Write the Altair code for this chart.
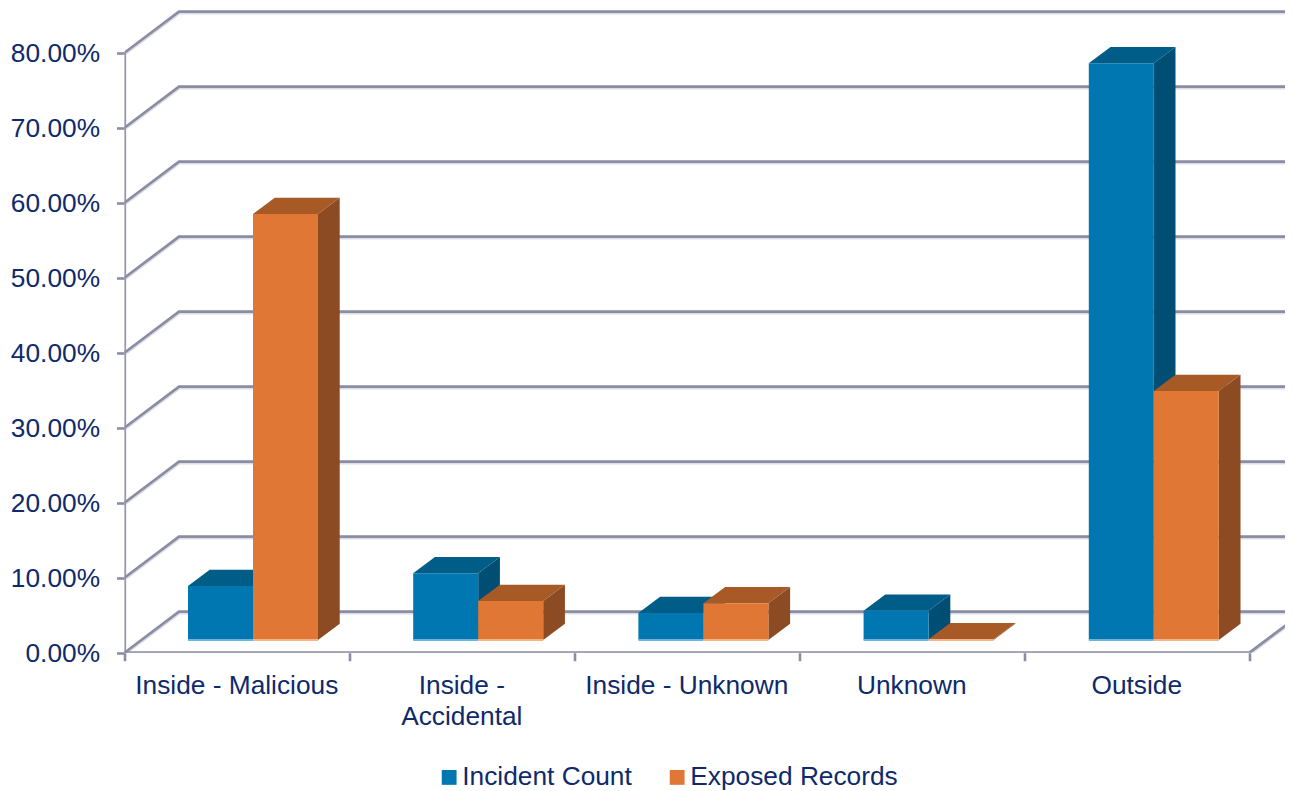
import altair as alt
import pandas as pd

categories = ["Inside - Malicious", "Inside - Accidental", "Inside - Unknown", "Unknown", "Outside"]
label_lines = [["Inside - Malicious"], ["Inside -", "Accidental"], ["Inside - Unknown"], ["Unknown"], ["Outside"]]
incident_count = [0.072, 0.089, 0.036, 0.039, 0.769]
exposed_records = [0.568, 0.052, 0.049, 0.001, 0.332]
y_ticks = [0.0, 0.1, 0.2, 0.3, 0.4, 0.5, 0.6, 0.7, 0.8]

NAVY = "#0e2a6b"
GRID = "#8b8da3"
SHADOW = "#dcdde6"
FONT = "Liberation Sans"
FS = 26.3

BLUE, BLUE_TOP, BLUE_SIDE, BLUE_EDGE = "#0077b0", "#005d87", "#004e74", "#6fb5da"
OR, OR_TOP, OR_SIDE, OR_EDGE = "#e07735", "#a85a26", "#8c4b23", "#f3b48c"

XMAX, YMAX = 5.1578, 0.8596
WALL_X, WALL_Y = 0.2422, 0.0547
BASE = 0.0169
BAR_W, BAR_START = 0.2889, 0.2822
DX, DY = 0.0965, 0.0218

xs = alt.Scale(domain=[0, XMAX], nice=False, zero=False)
ys = alt.Scale(domain=[0, YMAX], nice=False, zero=False)

x_tick_vals = [i / 2 for i in range(11)]
label_js = "[" + ",".join("[" + ",".join(repr(s) for s in l) + "]" for l in label_lines) + "]"
x_axis = alt.Axis(
    values=x_tick_vals, domain=False, grid=False, tickColor=GRID, tickWidth=2.6, tickSize=8,
    tickOpacity=alt.ExprRef("datum.value % 1 == 0 ? 1 : 0"),
    labelExpr=f"datum.value % 1 == 0 ? '' : {label_js}[floor(datum.value)]",
    labelFont=FONT, labelFontSize=FS, labelColor=NAVY, labelPadding=12, labelLineHeight=31, labelLimit=400,
    labelOffset=-0.7, labelOverlap=False, labelFlush=False, labelBound=False, labelAngle=0, labelAlign="center",
    labelBaseline="top")
y_axis = alt.Axis(
    values=y_ticks, format=".2%", domain=False, grid=False, tickColor=GRID, tickWidth=2.6, tickSize=8,
    labelFont=FONT, labelFontSize=FS, labelColor=NAVY, labelPadding=17, labelOffset=1, labelLimit=200,
    labelOverlap=False, labelBound=False, labelFlush=False)

X = lambda: alt.X("x:Q", scale=xs, axis=x_axis, title=None)
Y = lambda: alt.Y("y:Q", scale=ys, axis=y_axis, title=None)

# wall and floor lines
wall = []
for v in y_ticks:
    wall += [dict(id=v, x=0, y=v), dict(id=v, x=WALL_X, y=v + WALL_Y), dict(id=v, x=5 + WALL_X, y=v + WALL_Y)]
wall += [dict(id=-1, x=5, y=0), dict(id=-1, x=5 + WALL_X, y=WALL_Y)]
wall = pd.DataFrame(wall)
frame = pd.DataFrame([dict(id="floor", x=0, y=0), dict(id="floor", x=5, y=0),
                      dict(id="left", x=0, y=0), dict(id="left", x=0, y=0.8)])
wall["n"] = range(len(wall))
frame["n"] = range(len(frame))

def wall_layer(dfr, color, width, off=0):
    return alt.Chart(dfr).mark_line(color=color, strokeWidth=width, clip=True, yOffset=off, strokeCap="butt").encode(
        x=X(), y=Y(), detail="id:N", order=alt.Order("n:Q"))

def faces(values, start):
    side, top, front = [], [], []
    for i, v in enumerate(values):
        x0 = i * 1.0009 + start
        x1 = x0 + BAR_W
        t = BASE + v
        side += [dict(id=i, x=x1, y=t, y2=BASE), dict(id=i, x=x1 + DX, y=t + DY, y2=BASE + DY)]
        top += [dict(id=i, x=x0, y=t, y2=t), dict(id=i, x=x0 + DX, y=t + DY, y2=t),
                dict(id=i, x=x1, y=t + DY, y2=t), dict(id=i, x=x1 + DX, y=t + DY, y2=t + DY)]
        front.append(dict(x=x0, x2=x1, y=t, y2=BASE, base=BASE))
    return pd.DataFrame(side), pd.DataFrame(top), pd.DataFrame(front)

def area(dfr, color):
    return alt.Chart(dfr).mark_area(color=color, line=False).encode(
        x=X(), y=Y(), y2="y2:Q", detail="id:N")

b_side, b_top, b_front = faces(incident_count, BAR_START)
o_side, o_top, o_front = faces(exposed_records, BAR_START + BAR_W)
b_front["series"] = "Incident Count"
o_front["series"] = "Exposed Records"
fronts = pd.concat([b_front, o_front], ignore_index=True)

front_layer = alt.Chart(fronts).mark_rect().encode(
    x=X(), x2="x2:Q", y=Y(), y2="y2:Q",
    color=alt.Color("series:N", scale=alt.Scale(domain=["Incident Count", "Exposed Records"], range=[BLUE, OR]),
                    legend=alt.Legend(orient="none", legendX=311.5, legendY=756, direction="horizontal", title=None,
                                      symbolType="square", symbolSize=220, symbolStrokeWidth=0, labelFont=FONT,
                                      labelFontSize=FS, labelColor=NAVY, columnPadding=32, labelOffset=0,
                                      labelLimit=400, symbolOpacity=1)))

def strip(dfr, color):
    return alt.Chart(dfr).mark_rule(color=color, strokeWidth=2).encode(
        x=X(), x2="x2:Q", y=alt.Y("base:Q", scale=ys, axis=y_axis, title=None))

chart = alt.layer(
    wall_layer(wall, SHADOW, 3.8, 1),
    wall_layer(frame, SHADOW, 3.8, 1.5),
    wall_layer(wall, GRID, 2.7),
    wall_layer(frame, GRID, 2.7),
    area(b_side, BLUE_SIDE), area(b_top, BLUE_TOP),
    area(o_side, OR_SIDE), area(o_top, OR_TOP),
    front_layer,
    strip(b_front, BLUE_EDGE), strip(o_front, OR_EDGE),
).properties(
    width=1160.5, height=644.7,
    padding={"left": 116.5, "top": 0, "right": 0, "bottom": 138},
    autosize=alt.AutoSizeParams(type="none"),
    background="white",
).configure_view(stroke=None)

chart.save("out.html", embed_options={"renderer": "svg", "actions": False})
